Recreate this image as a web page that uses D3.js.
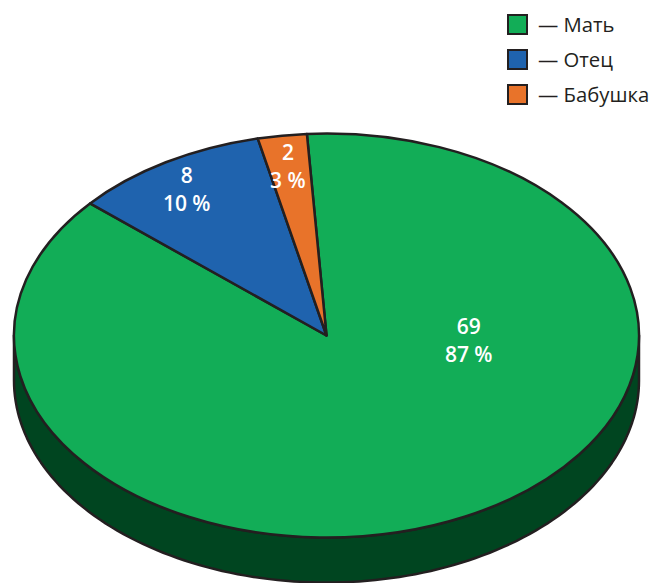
<!DOCTYPE html>
<html>
<head>
<meta charset="utf-8">
<script src="https://cdn.jsdelivr.net/npm/d3@7"></script>
<style>
  body { margin: 0; background: #fff; }
  svg { display: block; font-family: "Open Sans", "Noto Sans", sans-serif; }
</style>
</head>
<body>
<svg id="chart" width="654" height="583"></svg>
<script>
// data
var categories = ["Мать", "Отец", "Бабушка"];
var values = [69, 8, 2];
var colors = ["#12ad57", "#1f63ae", "#e8732a"];
var sideColors = ["#004520", "#0f3a6b", "#8a4215"];

// geometry of the tilted pie
var cx = 326.5, cy = 335.5;
var rx = 312.5, ry = 202;
var depth = 45;
var startDeg = -3.6;
var edge = "#231f20";

var svg = d3.select("#chart");
var total = d3.sum(values);

var pie = d3.pie()
	.sort(null)
	.startAngle(startDeg * Math.PI / 180)
	.endAngle(startDeg * Math.PI / 180 + 2 * Math.PI);

var slices = pie(values).map(function(d, i) {
	d.name = categories[i];
	d.color = colors[i];
	d.side = sideColors[i];
	return d;
});

// point on the top ellipse for pie angle a (0 = up, clockwise)
function pt(a, dy) {
	return [cx + rx * Math.sin(a), cy - ry * Math.cos(a) + (dy || 0)];
}

// side walls (front half only)
var sideGroup = svg.append("g");
slices.forEach(function(d) {
	var a0 = Math.max(d.startAngle, Math.PI / 2);
	var a1 = Math.min(d.endAngle, 3 * Math.PI / 2);
	if (a1 <= a0) return;
	var steps = 120, top = [], bottom = [];
	for (var k = 0; k <= steps; k++) {
		var a = a0 + (a1 - a0) * k / steps;
		top.push(pt(a, 0));
		bottom.push(pt(a, depth));
	}
	var poly = top.concat(bottom.reverse());
	sideGroup.append("path")
		.attr("d", d3.line()(poly) + "Z")
		.attr("fill", d.side)
		.attr("stroke", edge)
		.attr("stroke-width", 2.5)
		.attr("stroke-linejoin", "round");
});

// top face: a circle pie squashed into an ellipse
var arc = d3.arc().innerRadius(0).outerRadius(rx);
var topGroup = svg.append("g")
	.attr("transform", "translate(" + cx + "," + cy + ") scale(1," + (ry / rx) + ")");

topGroup.selectAll("path")
	.data(slices)
	.enter()
	.append("path")
	.attr("d", arc)
	.attr("fill", d => d.color)
	.attr("stroke", edge)
	.attr("stroke-width", 2.5)
	.attr("stroke-linejoin", "round")
	.attr("vector-effect", "non-scaling-stroke");

// labels
var labelPos = [
	{ angle: 90, r: 0.455 },  // big slice label sits to the right
	{ angle: null, r: 0.87 },
	{ angle: null, r: 0.87 }
];

var labels = svg.append("g")
	.attr("fill", "#fff")
	.attr("font-size", 21)
	.attr("font-weight", 600)
	.attr("text-anchor", "middle");

slices.forEach(function(d, i) {
	var a = labelPos[i].angle !== null ? labelPos[i].angle * Math.PI / 180
		: (d.startAngle + d.endAngle) / 2;
	var r = labelPos[i].r;
	var x = cx + rx * r * Math.sin(a);
	var y = cy - ry * r * Math.cos(a);
	var pct = Math.round(d.value / total * 100);
	var t = labels.append("text").attr("x", x).attr("y", y);
	t.append("tspan").attr("x", x).attr("dy", -2).text(d.value);
	t.append("tspan").attr("x", x).attr("dy", 28).text(pct + " %");
});

// legend
var legend = svg.append("g").attr("transform", "translate(507,14)");
var item = legend.selectAll("g")
	.data(slices)
	.enter()
	.append("g")
	.attr("transform", (d, i) => "translate(0," + (i * 35) + ")");

item.append("rect")
	.attr("x", 1).attr("y", 1)
	.attr("width", 19).attr("height", 19)
	.attr("fill", d => d.color)
	.attr("stroke", edge)
	.attr("stroke-width", 2);

item.append("text")
	.attr("x", 31)
	.attr("y", 18)
	.attr("font-size", 20.3)
	.attr("fill", "#231f20")
	.text(d => "— " + d.name);
</script>
</body>
</html>
